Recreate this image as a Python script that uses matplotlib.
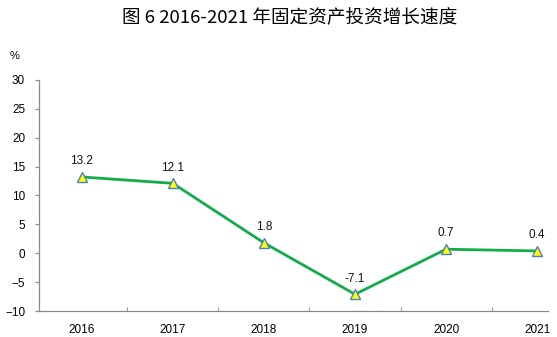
import matplotlib.pyplot as plt
from matplotlib.ticker import FixedLocator

plt.rcParams['font.family'] = ['Liberation Sans', 'DejaVu Sans']

years = ['2016', '2017', '2018', '2019', '2020', '2021']
growth = [13.2, 12.1, 1.8, -7.1, 0.7, 0.4]

fig = plt.figure(figsize=(5.57, 3.37), dpi=100)
ax = fig.add_axes([0.070, 0.077, 0.914, 0.686])

x = list(range(len(years)))
ax.plot(x, growth, color='#12AC4A', linewidth=2.0, marker='^', markersize=6.5,
        markerfacecolor='#FFFF00', markeredgecolor='#4F7CC9', markeredgewidth=1.0,
        zorder=3)

for xi, v in zip(x, growth):
    ax.annotate(f'{v}', (xi, v), xytext=(0, 7), textcoords='offset points',
                ha='center', va='bottom', fontsize=8.5, color='#111111')

ax.set_xlim(-0.47, 5.12)
ax.set_ylim(-10, 30)
ax.set_yticks(range(-10, 31, 5))
ax.set_xticks(x)
ax.set_xticklabels(years)
ax.xaxis.set_minor_locator(FixedLocator([i + 0.5 for i in range(-1, 6)]))
ax.tick_params(axis='x', which='major', length=0, pad=9, labelsize=8.5)
ax.tick_params(axis='x', which='minor', length=3, direction='in', color='#888888')
ax.tick_params(axis='y', length=3, direction='out', color='#888888', pad=7,
               labelsize=8.5)

for side in ['top', 'right']:
    ax.spines[side].set_visible(False)
for side in ['left', 'bottom']:
    ax.spines[side].set_color('#888888')
    ax.spines[side].set_linewidth(0.9)

fig.text(0.027, 0.835, '%', fontsize=8, ha='center', va='center')
fig.text(0.52, 0.945, '图 6 2016-2021 年固定资产投资增长速度',
         family=['Noto Sans CJK SC', 'DejaVu Sans'], fontsize=13.4,
         fontweight='normal', ha='center', va='center')

fig.savefig('out.png', dpi=100)
